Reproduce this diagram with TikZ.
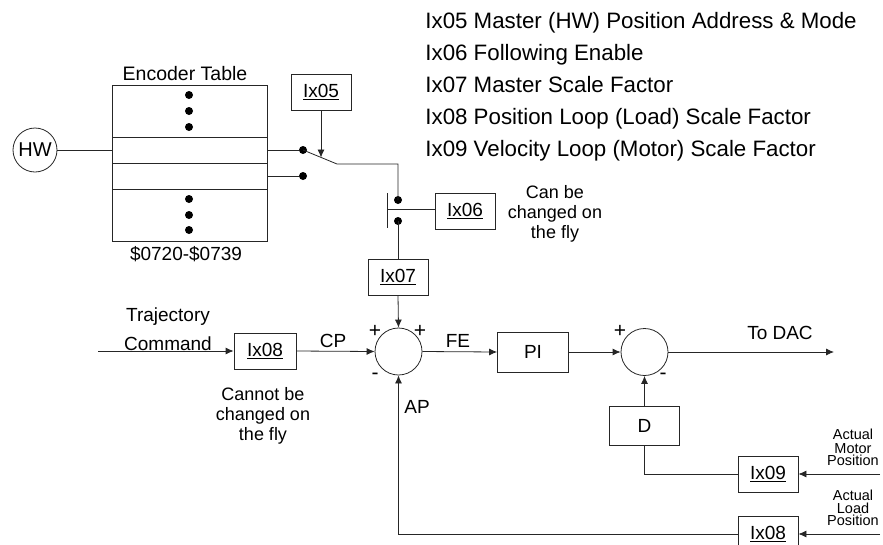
\documentclass[tikz,border=0pt]{standalone}
\usepackage{fontspec}
\setmainfont{Liberation Sans}
\usetikzlibrary{arrows.meta}
\begin{document}
\begin{tikzpicture}[x=1pt,y=-1pt, line width=0.8pt, draw=black!85,
  every node/.style={font=\fontsize{19}{21}\selectfont, text=black},
  blk/.style={draw, minimum width=60pt, minimum height=36pt, inner sep=0pt},
  sumc/.style={draw, circle, minimum size=47pt, inner sep=0pt},
  arr/.style={-{Latex[length=8pt,width=7pt]}},
  dotc/.style={circle, fill=black, inner sep=0pt, minimum size=8pt},
  lbl/.style={inner sep=0pt},
  note/.style={inner sep=0pt, align=center, font=\fontsize{18}{20}\selectfont},
  small/.style={inner sep=0pt, align=center, font=\fontsize{14.5}{14}\selectfont},
  sign/.style={inner sep=0pt, font=\fontsize{21}{21}\selectfont},
]
\useasboundingbox (0,0) rectangle (883,544);

% legend
\node[lbl, anchor=north west, align=left, font=\fontsize{22.3}{32}\selectfont] (legend) at (425,12)
  {Ix05 Master (HW) Position Address \& Mode\\Ix06 Following Enable\\Ix07 Master Scale Factor\\Ix08 Position Loop (Load) Scale Factor\\Ix09 Velocity Loop (Motor) Scale Factor};

% HW and encoder table
\node[draw, circle, minimum size=44pt, inner sep=0pt, font=\fontsize{20}{22}\selectfont] (hw) at (35,150) {HW};
\node[draw, minimum width=155pt, minimum height=156pt, inner sep=0pt] (enc) at (189.5,163) {};
\draw (112,137) -- (267,137);
\draw (112,163) -- (267,163);
\draw (112,189) -- (267,189);
\foreach \yy [count=\i] in {95,111,127,199,215,230} \node[dotc] (ed\i) at (189,\yy) {};
\node[lbl, anchor=base, font=\fontsize{19.5}{21}\selectfont] (enclbl) at (185,80) {Encoder Table};
\node[lbl, anchor=base] (addr) at (186,260) {\$0720-\$0739};
\coordinate (tl) at (112,150);
\draw (hw.east) -- (tl);

% selector switch
\node[blk] (ix05) at (321,92) {\underline{Ix05}};
\node[dotc] (sa) at (303,150) {};
\node[dotc] (sb) at (303,176) {};
\coordinate (tr1) at (267,150);
\coordinate (tr2) at (267,176);
\draw (tr1) -- (sa);
\draw (tr2) -- (sb);
\coordinate (bl) at (337,164);
\node[dotc] (sc) at (398,200) {};
\node[dotc] (sd) at (398,221) {};
\draw (sa.center) -- (bl) -| (sc.center);
\coordinate (blade) at (321,157.5);
\draw[arr] (ix05.south) -- (blade);

% following enable
\node[blk] (ix06) at (465,211) {\underline{Ix06}};
\coordinate (bt) at (387,193);
\coordinate (bb) at (387,228);
\coordinate (bm) at (387,209);
\draw (bt) -- (bb);
\draw (bm) -- (bm -| ix06.west);
\node[note, anchor=north] (canbe) at (555,185) {Can be\\changed on\\the fly};

% master scale
\node[blk] (ix07) at (398,277) {\underline{Ix07}};
\draw (sd.center) -- (ix07.north);

% main loop
\node[sumc] (s1) at (398.5,351.5) {};
\node[blk, minimum width=62pt] (ix08a) at (265,351) {\underline{Ix08}};
\coordinate (tc) at (98,351);
\node[lbl, anchor=base] (traj) at (168,321) {Trajectory};
\node[lbl, anchor=base] (cmd) at (168,350) {Command};
\draw[arr] (tc) -- (ix08a.west);
\draw[arr] (ix08a.east) -- (s1.west);
\node[note, anchor=north] (cannot) at (263,387) {Cannot be\\changed on\\the fly};
\node[lbl, anchor=base] (cp) at (333,347) {CP};
\node[lbl, anchor=base] (fe) at (458,347) {FE};
\node[lbl, anchor=base] (ap) at (417,413) {AP};
\node[sign] (p1) at (375,331) {+};
\node[sign] (p2) at (420,331) {+};
\node[sign, anchor=base] (m1) at (375,379) {-};
\draw[arr] (ix07.south) -- (s1.north);

\node[draw, minimum width=71pt, minimum height=40pt, inner sep=0pt] (pi) at (533,352) {PI};
\draw[arr] (s1.east) -- (pi.west);
\node[sumc] (s2) at (644.5,352) {};
\draw[arr] (pi.east) -- (s2.west);
\node[sign] (p3) at (620,331) {+};
\node[sign, anchor=base] (m2) at (663,379) {-};
\coordinate (dac) at (834,352);
\draw[arr] (s2.east) -- (dac);
\node[lbl, anchor=base] (todac) at (780,339) {To DAC};

\node[draw, minimum width=70pt, minimum height=39pt, inner sep=0pt] (d) at (644.5,425.5) {D};
\draw[arr] (d.north) -- (s2.south);

% feedback
\node[blk] (ix09) at (768,474) {\underline{Ix09}};
\draw (ix09.west) -| (d.south);
\coordinate (am) at (880,474);
\draw[arr] (am) -- (ix09.east);
\node[small, anchor=north] (amp) at (853,429) {Actual\\[0pt]Motor\\[-2pt]Position};

\node[blk] (ix08b) at (768,534) {\underline{Ix08}};
\coordinate (al) at (880,534);
\draw[arr] (al) -- (ix08b.east);
\draw[arr] (ix08b.west) -| (s1.south);
\node[small, anchor=north] (alp) at (853,490) {Actual\\[-1pt]Load\\[-2pt]Position};
\end{tikzpicture}
\end{document}
